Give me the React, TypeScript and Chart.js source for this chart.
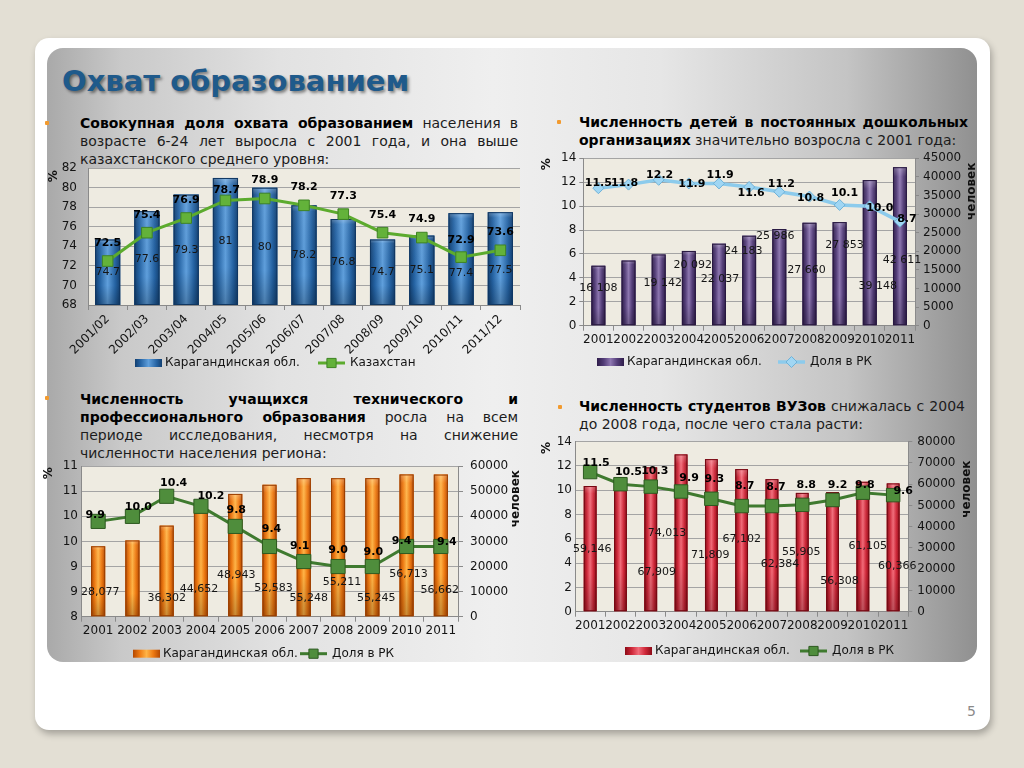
import React, { useEffect, useRef } from 'react';
import { Chart, registerables } from 'chart.js';

Chart.register(...registerables);

const FONT = '"DejaVu Sans", Verdana, sans-serif';
const INK = '#141414';
const AXIS = '#8a8a8a';
const GRID = '#a4a4a4';

// ---------------- data ----------------
const coveragePeriods = ['2001/02', '2002/03', '2003/04', '2004/05', '2005/06', '2006/07', '2007/08', '2008/09', '2009/10', '2010/11', '2011/12'];
const coverageKaraganda = [74.7, 77.6, 79.3, 81, 80, 78.2, 76.8, 74.7, 75.1, 77.4, 77.5];
const coverageKazakhstan = [72.5, 75.4, 76.9, 78.7, 78.9, 78.2, 77.3, 75.4, 74.9, 72.9, 73.6];

const years = ['2001', '2002', '2003', '2004', '2005', '2006', '2007', '2008', '2009', '2010', '2011'];

const preschoolChildren = [16108, 17500, 19142, 20092, 22037, 24183, 25986, 27660, 27853, 39148, 42611];
const preschoolShare = [11.5, 11.8, 12.2, 11.9, 11.9, 11.6, 11.2, 10.8, 10.1, 10.0, 8.7];

const vocationalStudents = [28077, 30400, 36302, 44652, 48943, 52583, 55248, 55211, 55245, 56713, 56662];
const vocationalShare = [9.9, 10.0, 10.4, 10.2, 9.8, 9.4, 9.1, 9.0, 9.0, 9.4, 9.4];

const universityStudents = [59146, 63000, 67909, 74013, 71809, 67102, 62384, 55905, 56308, 61105, 60366];
const universityShare = [11.5, 10.5, 10.3, 9.9, 9.3, 8.7, 8.7, 8.8, 9.2, 9.8, 9.6];

const legendRegion = 'Карагандинская обл.';
const legendKazakhstan = 'Казахстан';
const legendShare = 'Доля в РК';

// ---------------- label placement (as in the slide) ----------------
type Shift = [number, number];
// [dx in px, anchor value on the bar axis]; null = no label shown
const coverageBarLabelAt: (Shift | null)[] = [[0, 71.36], [0, 72.7], [0, 73.6], [0, 74.55], [0, 73.97], [0, 73.1], [0, 72.36], [0, 71.36], [0, 71.53], [0, 71.26], [0, 71.6]];
const coverageLineShift: Shift[] = [[0, -18], [0, -18], [0, -18], [1, -10], [0, -18], [0, -18], [0, -18], [0, -18], [0, -18], [0, -17], [0, -18]];

const preschoolBarLabelAt: (Shift | null)[] = [[0, 10130], null, [4, 11480], [4, 16320], [1, 12550], [-6, 20080], [-4, 24110], [-3, 14970], [5, 21690], [8, 10670], [2, 17660]];
const preschoolLineShift: Shift[] = [[0, -5], [-4, -1], [1, -5], [3, 1], [1, -8], [2, 6], [2, -8], [1, 2], [5, -12], [10, 2], [7, -3]];

const vocationalBarLabelAt: (Shift | null)[] = [[2, 9890], null, [0, 7280], [-2, 10840], [1, 16500], [4, 11230], [5, 7280], [4, 13610], [4, 7280], [2, 16890], [-1, 10560]];
const vocationalLineShift: Shift[] = [[-3, -6], [6, -9], [7, -13], [10, -10], [1, -16], [2, -17], [-4, -15], [0, -16], [1, -14], [-5, -5], [6, -4]];

const universityBarLabelAt: (Shift | null)[] = [[2, 29360], null, [6, 18820], [-14, 37180], [-1, 26680], [0, 34060], [8, 22300], [-1, 28240], [7, 14590], [5, 30920], [4, 21510]];
const universityLineShift: Shift[] = [[6, -9], [8, -12], [4, -15], [8, -13], [3, -20], [3, -20], [4, -19], [4, -20], [5, -15], [2, -8], [10, -4]];

const groupThousands = (v: number, sep: string) => String(v).replace(/\B(?=(\d{3})+(?!\d))/g, sep);

// ---------------- chart building ----------------
interface Decor {
  plotBg: string;
  barStops: [number, string][];
  barEdge: string;
  barAxis: string;
  barTexts: string[];
  barAnchors: (Shift | null)[];
  lineTexts: string[];
  lineShifts: Shift[];
  legendDy: number;
  legendBarX: number;
  legendLineX: number;
  legendBarText: string;
  legendLineText: string;
  titles: { text: string; side: 'left' | 'right'; dx: number; dy: number; size: number }[];
}

interface Spec {
  labels: string[];
  bars: number[];
  line: number[];
  barAxis: 'y' | 'y2';
  y: { min: number; max: number; step: number; fmt?: (v: any) => string; len: number; pad: number };
  y2?: { min: number; max: number; step: number; len: number; pad: number };
  yWidth: number;
  y2Width: number;
  xHeight: number;
  padTop: number;
  padRight: number;
  xRotation: number;
  barPct: number;
  barFill: string;
  lineColor: string;
  lineWidth: number;
  pointStyle: string;
  pointRadius: number;
  pointFill: string;
  pointStroke: string;
  decor: Decor;
}

function drawMarker(ctx: CanvasRenderingContext2D, style: string, x: number, y: number, r: number, fill: string, stroke: string) {
  ctx.beginPath();
  if (style === 'rectRot') {
    ctx.moveTo(x, y - r);
    ctx.lineTo(x + r, y);
    ctx.lineTo(x, y + r);
    ctx.lineTo(x - r, y);
    ctx.closePath();
  } else {
    const h = r * Math.SQRT1_2;
    ctx.rect(x - h, y - h, 2 * h, 2 * h);
  }
  ctx.fillStyle = fill;
  ctx.fill();
  ctx.strokeStyle = stroke;
  ctx.lineWidth = 1;
  ctx.stroke();
}

function decorPlugin(s: Spec) {
  const d = s.decor;
  return {
    id: 'slideDecor',
    beforeDraw(chart: any) {
      const { ctx, chartArea: a } = chart;
      ctx.save();
      ctx.fillStyle = d.plotBg;
      ctx.fillRect(a.left, a.top, a.right - a.left, a.bottom - a.top);
      ctx.restore();
    },
    afterDatasetDraw(chart: any, args: any) {
      if (args.meta.type !== 'bar') return;
      const ctx: CanvasRenderingContext2D = chart.ctx;
      const a = chart.chartArea;
      ctx.save();
      ctx.beginPath();
      ctx.rect(a.left, a.top, a.right - a.left, a.bottom - a.top);
      ctx.clip();
      args.meta.data.forEach((el: any) => {
        const p = el.getProps(['x', 'y', 'base', 'width'], true);
        const x0 = p.x - p.width / 2;
        const base = Math.min(p.base, a.bottom);
        const h = base - p.y;
        const g = ctx.createLinearGradient(x0, 0, x0 + p.width, 0);
        d.barStops.forEach(([o, c]) => g.addColorStop(o, c));
        ctx.fillStyle = g;
        ctx.fillRect(x0, p.y, p.width, h);
        const v = ctx.createLinearGradient(0, p.y, 0, base);
        v.addColorStop(0, 'rgba(255,255,255,0.28)');
        v.addColorStop(0.06, 'rgba(255,255,255,0.05)');
        v.addColorStop(0.7, 'rgba(0,0,0,0)');
        v.addColorStop(1, 'rgba(0,0,0,0.22)');
        ctx.fillStyle = v;
        ctx.fillRect(x0, p.y, p.width, h);
        ctx.strokeStyle = d.barEdge;
        ctx.lineWidth = 1;
        ctx.strokeRect(x0 + 0.5, p.y + 0.5, p.width - 1, h - 1);
      });
      ctx.restore();
    },
    afterDatasetsDraw(chart: any) {
      const ctx: CanvasRenderingContext2D = chart.ctx;
      const lineMeta = chart.getDatasetMeta(0);
      const barMeta = chart.getDatasetMeta(1);
      const barScale = chart.scales[d.barAxis];
      ctx.save();
      ctx.textAlign = 'center';
      ctx.textBaseline = 'middle';
      ctx.font = `11px ${FONT}`;
      ctx.fillStyle = '#151515';
      d.barTexts.forEach((t, i) => {
        const a = d.barAnchors[i];
        if (!a) return;
        ctx.fillText(t, barMeta.data[i].x + a[0], barScale.getPixelForValue(a[1]));
      });
      ctx.font = `bold 11px ${FONT}`;
      ctx.fillStyle = '#000';
      d.lineTexts.forEach((t, i) => {
        const el = lineMeta.data[i];
        const [dx, dy] = d.lineShifts[i];
        ctx.fillText(t, el.x + dx, el.y + dy);
      });
      ctx.restore();
    },
    afterDraw(chart: any) {
      const ctx: CanvasRenderingContext2D = chart.ctx;
      const a = chart.chartArea;
      ctx.save();
      // legend
      const y = a.bottom + d.legendDy;
      const bx = a.left + d.legendBarX;
      const g = ctx.createLinearGradient(bx, 0, bx + 27, 0);
      d.barStops.forEach(([o, c]) => g.addColorStop(o, c));
      ctx.fillStyle = g;
      ctx.fillRect(bx, y - 4, 27, 8);
      ctx.font = `12px ${FONT}`;
      ctx.fillStyle = INK;
      ctx.textAlign = 'left';
      ctx.textBaseline = 'middle';
      ctx.fillText(d.legendBarText, bx + 30, y);
      const lx = a.left + d.legendLineX;
      ctx.strokeStyle = s.lineColor;
      ctx.lineWidth = s.lineWidth;
      ctx.beginPath();
      ctx.moveTo(lx, y);
      ctx.lineTo(lx + 27, y);
      ctx.stroke();
      drawMarker(ctx, s.pointStyle, lx + 13.5, y, Math.min(s.pointRadius, 6.5), s.pointFill, s.pointStroke);
      ctx.fillStyle = INK;
      ctx.fillText(d.legendLineText, lx + 32, y);
      // axis titles
      d.titles.forEach((t) => {
        const tx = (t.side === 'left' ? a.left : a.right) + t.dx;
        const ty = a.top + t.dy;
        ctx.save();
        ctx.translate(tx, ty);
        ctx.rotate(-Math.PI / 2);
        ctx.font = `bold ${t.size}px ${FONT}`;
        ctx.fillStyle = '#111';
        ctx.textAlign = 'center';
        ctx.textBaseline = 'middle';
        ctx.fillText(t.text, 0, 0);
        ctx.restore();
      });
      ctx.restore();
    },
  };
}

function buildConfig(s: Spec): any {
  const tickFont = { family: FONT, size: 12 };
  const scales: any = {
    x: {
      type: 'category',
      offset: true,
      grid: { display: true, drawOnChartArea: false, drawTicks: true, tickLength: 5, color: AXIS },
      border: { display: true, color: AXIS },
      ticks: { font: tickFont, color: INK, autoSkip: false, minRotation: s.xRotation, maxRotation: s.xRotation, padding: 2 },
      afterFit: (sc: any) => { sc.height = s.xHeight; },
    },
    y: {
      position: 'left',
      min: s.y.min,
      max: s.y.max,
      ticks: { stepSize: s.y.step, font: tickFont, color: INK, padding: s.y.pad, callback: s.y.fmt || ((v: any) => String(v)) },
      grid: { color: GRID, drawTicks: s.y.len > 0, tickLength: s.y.len, tickColor: AXIS },
      border: { display: true, color: AXIS },
      afterFit: (sc: any) => { sc.width = s.yWidth; },
    },
  };
  if (s.y2) {
    scales.y2 = {
      position: 'right',
      min: s.y2.min,
      max: s.y2.max,
      ticks: { stepSize: s.y2.step, font: tickFont, color: INK, padding: s.y2.pad, callback: (v: any) => String(v) },
      grid: { drawOnChartArea: false, drawTicks: true, tickLength: s.y2.len, color: AXIS },
      border: { display: true, color: AXIS },
      afterFit: (sc: any) => { sc.width = s.y2Width; },
    };
  }
  return {
    type: 'bar',
    data: {
      labels: s.labels,
      datasets: [
        {
          type: 'line',
          data: s.line,
          yAxisID: 'y',
          order: 1,
          borderColor: s.lineColor,
          borderWidth: s.lineWidth,
          pointStyle: s.pointStyle,
          pointRadius: s.pointRadius,
          pointBackgroundColor: s.pointFill,
          pointBorderColor: s.pointStroke,
          pointBorderWidth: 1,
          tension: 0,
          fill: false,
        },
        {
          type: 'bar',
          data: s.bars,
          yAxisID: s.barAxis,
          order: 2,
          backgroundColor: s.barFill,
          barPercentage: s.barPct,
          categoryPercentage: 1,
        },
      ],
    },
    options: {
      animation: false,
      responsive: false,
      maintainAspectRatio: false,
      devicePixelRatio: 1,
      layout: { padding: { top: s.padTop, right: s.padRight, left: 0, bottom: 0 } },
      plugins: { legend: { display: false }, tooltip: { enabled: false } },
      scales,
    },
    plugins: [decorPlugin(s)],
  };
}

const BLUE: [number, string][] = [[0, '#123f70'], [0.2, '#2563a3'], [0.5, '#5f9fdc'], [0.8, '#2563a3'], [1, '#123f70']];
const PURPLE: [number, string][] = [[0, '#2f1d4a'], [0.25, '#533d78'], [0.5, '#8e77b1'], [0.75, '#533d78'], [1, '#2f1d4a']];
const ORANGE: [number, string][] = [[0, '#b44800'], [0.25, '#ee7a12'], [0.5, '#ffb447'], [0.75, '#ee7a12'], [1, '#b44800']];
const RED: [number, string][] = [[0, '#8c0b17'], [0.25, '#cf2839'], [0.5, '#f26b79'], [0.75, '#cf2839'], [1, '#8c0b17']];

const coverageSpec: Spec = {
  labels: coveragePeriods,
  bars: coverageKaraganda,
  line: coverageKazakhstan,
  barAxis: 'y',
  y: { min: 68, max: 82, step: 2, len: 0, pad: 11 },
  yWidth: 48,
  y2Width: 0,
  xHeight: 77,
  padTop: 16,
  padRight: 10,
  xRotation: 45,
  barPct: 0.64,
  barFill: '#2c6aa8',
  lineColor: '#5cab2e',
  lineWidth: 3,
  pointStyle: 'rect',
  pointRadius: 7.5,
  pointFill: '#63b23a',
  pointStroke: '#3e8324',
  decor: {
    plotBg: '#eeebe1',
    barStops: BLUE,
    barEdge: '#103762',
    barAxis: 'y',
    barTexts: coverageKaraganda.map((v) => String(v)),
    barAnchors: coverageBarLabelAt,
    lineTexts: coverageKazakhstan.map((v) => v.toFixed(1)),
    lineShifts: coverageLineShift,
    legendDy: 58,
    legendBarX: 47,
    legendLineX: 230,
    legendBarText: legendRegion,
    legendLineText: legendKazakhstan,
    titles: [{ text: '%', side: 'left', dx: -34, dy: 8, size: 12 }],
  },
};

const preschoolSpec: Spec = {
  labels: years,
  bars: preschoolChildren,
  line: preschoolShare,
  barAxis: 'y2',
  y: { min: 0, max: 14, step: 2, len: 4, pad: 3 },
  y2: { min: 0, max: 45000, step: 5000, len: 4, pad: 4 },
  yWidth: 53.3,
  y2Width: 75,
  xHeight: 49.3,
  padTop: 13.3,
  padRight: 0,
  xRotation: 0,
  barPct: 0.46,
  barFill: '#55407a',
  lineColor: '#8ccbec',
  lineWidth: 3.5,
  pointStyle: 'rectRot',
  pointRadius: 5.5,
  pointFill: '#a0d6f3',
  pointStroke: '#6fb2d8',
  decor: {
    plotBg: '#eeebe1',
    barStops: PURPLE,
    barEdge: '#281840',
    barAxis: 'y2',
    barTexts: preschoolChildren.map((v) => groupThousands(v, ' ')),
    barAnchors: preschoolBarLabelAt,
    lineTexts: preschoolShare.map((v) => v.toFixed(1)),
    lineShifts: preschoolLineShift,
    legendDy: 36.3,
    legendBarX: 13.7,
    legendLineX: 194.7,
    legendBarText: legendRegion,
    legendLineText: legendShare,
    titles: [
      { text: '%', side: 'left', dx: -36, dy: 6, size: 12 },
      { text: 'человек', side: 'right', dx: 57, dy: 33, size: 12 },
    ],
  },
};

const vocationalSpec: Spec = {
  labels: years,
  bars: vocationalStudents,
  line: vocationalShare,
  barAxis: 'y2',
  y: { min: 8, max: 11, step: 0.5, fmt: (v: any) => Number(v).toFixed(0), len: 0, pad: 3 },
  y2: { min: 0, max: 60000, step: 10000, len: 5, pad: 7 },
  yWidth: 41,
  y2Width: 72,
  xHeight: 50.3,
  padTop: 13,
  padRight: 0,
  xRotation: 0,
  barPct: 0.41,
  barFill: '#ee7a12',
  lineColor: '#3f7a2f',
  lineWidth: 3,
  pointStyle: 'rect',
  pointRadius: 10,
  pointFill: '#4f8d3c',
  pointStroke: '#2d5a20',
  decor: {
    plotBg: '#eeebe1',
    barStops: ORANGE,
    barEdge: '#9a3e00',
    barAxis: 'y2',
    barTexts: vocationalStudents.map((v) => groupThousands(v, ',')),
    barAnchors: vocationalBarLabelAt,
    lineTexts: vocationalShare.map((v) => v.toFixed(1)),
    lineShifts: vocationalLineShift,
    legendDy: 37,
    legendBarX: 52,
    legendLineX: 219,
    legendBarText: legendRegion,
    legendLineText: legendShare,
    titles: [
      { text: '%', side: 'left', dx: -32.5, dy: 7, size: 12 },
      { text: 'человек', side: 'right', dx: 58, dy: 32.5, size: 12 },
    ],
  },
};

const universitySpec: Spec = {
  labels: years,
  bars: universityStudents,
  line: universityShare,
  barAxis: 'y2',
  y: { min: 0, max: 14, step: 2, len: 0, pad: 3 },
  y2: { min: 0, max: 80000, step: 10000, len: 4, pad: 5 },
  yWidth: 45,
  y2Width: 81.7,
  xHeight: 58.3,
  padTop: 13.7,
  padRight: 0,
  xRotation: 0,
  barPct: 0.42,
  barFill: '#cf2839',
  lineColor: '#3f7a2f',
  lineWidth: 3,
  pointStyle: 'rect',
  pointRadius: 9.5,
  pointFill: '#4f8d3c',
  pointStroke: '#2d5a20',
  decor: {
    plotBg: '#eeebe1',
    barStops: RED,
    barEdge: '#760812',
    barAxis: 'y2',
    barTexts: universityStudents.map((v) => groupThousands(v, ',')),
    barAnchors: universityBarLabelAt,
    lineTexts: universityShare.map((v) => v.toFixed(1)),
    lineShifts: universityLineShift,
    legendDy: 39.3,
    legendBarX: 50,
    legendLineX: 225,
    legendBarText: legendRegion,
    legendLineText: legendShare,
    titles: [
      { text: '%', side: 'left', dx: -28.3, dy: 6.3, size: 12 },
      { text: 'человек', side: 'right', dx: 58.5, dy: 47.5, size: 12 },
    ],
  },
};

function ChartBox({ left, top, width, height, spec }: { left: number; top: number; width: number; height: number; spec: Spec }) {
  const ref = useRef<HTMLCanvasElement>(null);
  useEffect(() => {
    const chart = new Chart(ref.current as HTMLCanvasElement, buildConfig(spec));
    return () => chart.destroy();
  }, [spec]);
  return <canvas ref={ref} width={width} height={height} style={{ position: 'absolute', left, top, width, height }} />;
}

type Run = string | { b: string };
function Para({ left, top, width, lh, lines, bullet }: { left: number; top: number; width: number; lh: number; lines: { runs: Run[]; justify: boolean }[]; bullet: [number, number] }) {
  return (
    <>
      <div style={{ position: 'absolute', left: bullet[0], top: bullet[1], width: 4, height: 4, background: '#f29a2e', borderRadius: 1 }} />
      <div style={{ position: 'absolute', left, top, width, fontSize: 14, color: '#1c1c1c' }}>
        {lines.map((ln, i) => (
          <div
            key={i}
            style={{
              height: lh,
              lineHeight: `${lh}px`,
              whiteSpace: 'nowrap',
              textAlign: ln.justify ? 'justify' : 'left',
              textAlignLast: ln.justify ? 'justify' : 'left',
            } as React.CSSProperties}
          >
            {ln.runs.map((r, j) => (typeof r === 'string' ? <span key={j}>{r}</span> : <b key={j} style={{ color: '#000' }}>{r.b}</b>))}
          </div>
        ))}
      </div>
    </>
  );
}

export default function App() {
  return (
    <div style={{ position: 'fixed', left: 0, top: 0, width: 1024, height: 768, background: '#e3dfd4', overflow: 'hidden', fontFamily: FONT }}>
      <div style={{ position: 'absolute', left: 35, top: 38, width: 955, height: 692, background: '#ffffff', borderRadius: 14, boxShadow: '2px 4px 7px rgba(0,0,0,0.28)' }} />
      <div
        style={{
          position: 'absolute',
          left: 47,
          top: 48,
          width: 930,
          height: 614,
          borderRadius: 16,
          background: 'linear-gradient(90deg, #a9a9a9 0%, #c9c9c9 8%, #e2e2e2 25%, #efefef 48%, #e6e6e6 66%, #c4c4c4 86%, #909090 100%)',
        }}
      />
      <div
        style={{
          position: 'absolute',
          left: 62,
          top: 64,
          fontSize: 29,
          lineHeight: '34px',
          fontWeight: 'bold',
          color: '#1f5a8b',
          textShadow: '2px 2px 3px rgba(0,0,0,0.45)',
          whiteSpace: 'nowrap',
        }}
      >
        Охват образованием
      </div>

      <Para
        left={80}
        top={113.8}
        width={438}
        lh={18}
        bullet={[45, 121]}
        lines={[
          { runs: [{ b: 'Совокупная доля охвата образованием' }, ' населения в'], justify: true },
          { runs: ['возрасте 6-24 лет выросла с 2001 года, и она выше'], justify: true },
          { runs: ['казахстанского среднего уровня:'], justify: false },
        ]}
      />
      <Para
        left={579}
        top={112.7}
        width={389}
        lh={18}
        bullet={[557, 120]}
        lines={[
          { runs: [{ b: 'Численность детей в постоянных дошкольных' }], justify: true },
          { runs: [{ b: 'организациях' }, ' значительно возросла с 2001 года:'], justify: false },
        ]}
      />
      <Para
        left={80}
        top={389.5}
        width={438}
        lh={18.3}
        bullet={[45, 396]}
        lines={[
          { runs: [{ b: 'Численность учащихся технического и' }], justify: true },
          { runs: [{ b: 'профессионального образования' }, ' росла на всем'], justify: true },
          { runs: ['периоде исследования, несмотря на снижение'], justify: true },
          { runs: ['численности населения региона:'], justify: false },
        ]}
      />
      <Para
        left={579}
        top={397}
        width={386}
        lh={18}
        bullet={[558, 405]}
        lines={[
          { runs: [{ b: 'Численность студентов ВУЗов' }, ' снижалась с 2004'], justify: true },
          { runs: ['до 2008 года, после чего стала расти:'], justify: false },
        ]}
      />

      <ChartBox left={40} top={150} width={490} height={232} spec={coverageSpec} />
      <ChartBox left={530} top={145} width={460} height={230} spec={preschoolSpec} />
      <ChartBox left={40} top={452} width={490} height={215} spec={vocationalSpec} />
      <ChartBox left={530} top={428} width={460} height={242} spec={universitySpec} />

      <div style={{ position: 'absolute', left: 967, top: 703, fontSize: 14, color: '#8a8a8a' }}>5</div>
    </div>
  );
}
